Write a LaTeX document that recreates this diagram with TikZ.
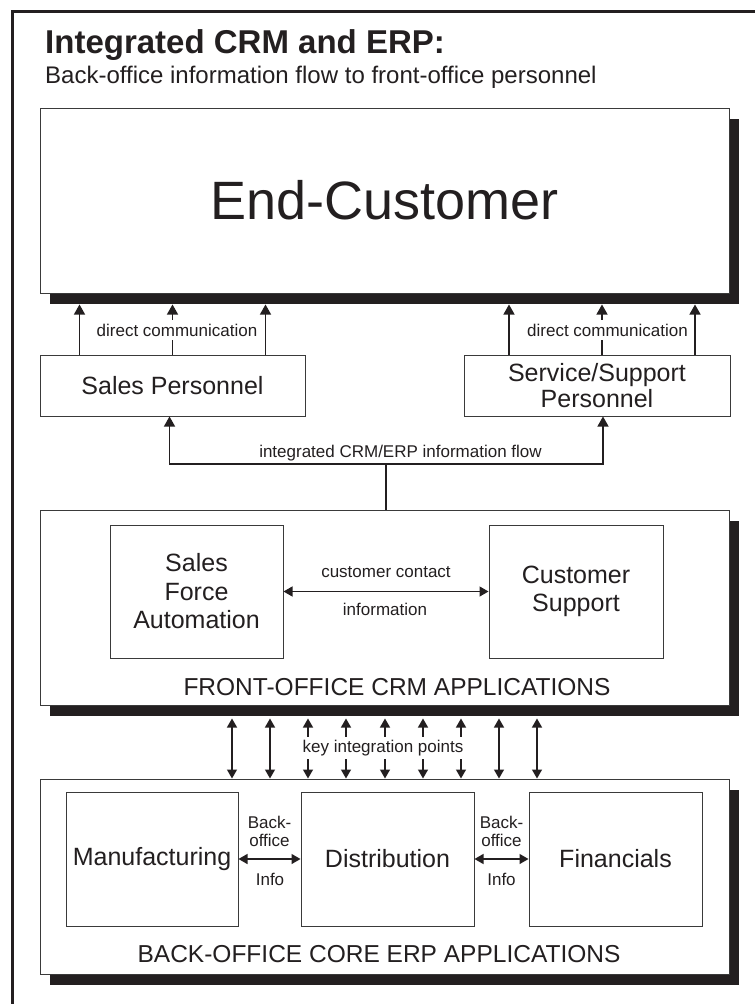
\documentclass[tikz,border=0pt]{standalone}
\usepackage{fontspec}
\setmainfont{Liberation Sans}
\usepackage{tikz}
\usetikzlibrary{arrows.meta,shadows}
\definecolor{ink}{HTML}{231F20}
\definecolor{rule}{HTML}{3A3A3A}
\tikzset{
  box/.style={rectangle, draw=rule, fill=white, line width=1pt, align=center,
              text=ink, inner sep=0pt, font=\fontsize{25}{28.5}\selectfont},
  tierbox/.style={box, drop shadow={shadow xshift=10pt, shadow yshift=-11pt, fill=ink, opacity=1}},
  tierlbl/.style={anchor=base, text=ink, inner sep=0pt, font=\fontsize{24.5}{28}\selectfont},
  lbl/.style={text=ink, align=center, inner sep=1pt, font=\fontsize{17}{18}\selectfont},
  gap/.style={lbl, fill=white, inner ysep=4pt},
  link/.style={draw=ink, line width=1.3pt},
  flow/.style={-{Triangle[length=10pt,width=11pt]}, draw=ink, line width=1.3pt},
  dflow/.style={{Triangle[length=9pt,width=10pt]}-{Triangle[length=9pt,width=10pt]}, draw=ink, line width=1.3pt},
}

\begin{document}
\begin{tikzpicture}[x=1pt, y=-1pt]
\path[fill=white, use as bounding box] (0,0) rectangle (755,1004);
\draw[ink, line width=3pt] (12,1004) |- (755,11);

% heading
\node[anchor=base west, inner sep=0pt, text=ink, font=\fontsize{33}{38}\selectfont\bfseries] (title) at (45,53) {Integrated CRM and ERP:};
\node[anchor=base west, inner sep=0pt, text=ink, font=\fontsize{24}{28}\selectfont] (subtitle) at (45,83) {Back-office information flow to front-office personnel};

% customer and personnel
\node[tierbox, minimum width=689pt, minimum height=185pt, font=\fontsize{54}{60}\selectfont] (ecust) at (384.5,200.5) {End-Customer};
\node[box, minimum width=265pt, minimum height=61pt] (sales) at (172.5,385.5) {Sales Personnel};
\node[box, minimum width=266pt, minimum height=61pt, font=\fontsize{25}{26}\selectfont] (serv) at (597,385.5) {Service/Support\\Personnel};

\coordinate (ecs) at ([yshift=-11pt]ecust.south);
\foreach \dx in {-93,0,93}
  \draw[flow] ([xshift=\dx pt]sales.north) coordinate (p) -- (p |- ecs);
\foreach \dx in {-88,5,98}
  \draw[flow] ([xshift=\dx pt]serv.north) coordinate (p) -- (p |- ecs);
\node[gap] (dcl) at (177,330) {direct communication};
\node[gap] (dcr) at (607.5,330) {direct communication};

% front office
\node[tierbox, minimum width=689pt, minimum height=195pt] (front) at (384.5,607.5) {};
\node[tierlbl] (frontlbl) at (397,695) {FRONT-OFFICE CRM APPLICATIONS};
\node[box, minimum width=173pt, minimum height=133pt] (sfa) at (196.5,591.5) {Sales\\Force\\Automation};
\node[box, minimum width=174pt, minimum height=133pt] (cs) at (576,591.5) {Customer\\Support};
\draw[dflow] (sfa) -- (cs);
\node[lbl, anchor=base] (cc) at (386,577) {customer contact};
\node[lbl, anchor=base] (ci) at (385,615) {information};

\coordinate (split) at (386,464);
\draw[link] (split) -- (split |- front.north);
\draw[flow] (split) -| ([xshift=-3pt]sales.south);
\draw[flow] (split) -| ([xshift=6pt]serv.south);
\node[lbl, anchor=base] (iflow) at (400.5,457) {integrated CRM/ERP information flow};

% back office
\node[tierbox, minimum width=689pt, minimum height=195pt] (back) at (384.5,876.5) {};
\node[tierlbl] (backlbl) at (379,962) {BACK-OFFICE CORE ERP APPLICATIONS};
\node[box, minimum width=172pt, minimum height=134pt] (manuf) at (152,859) {Manufacturing};
\node[box, minimum width=173pt, minimum height=134pt] (dist) at (387.5,859) {Distribution};
\node[box, minimum width=173pt, minimum height=134pt] (fin) at (615.5,859) {Financials};
\draw[dflow] (manuf) -- (dist);
\draw[dflow] (dist) -- (fin);
\node[lbl] (bo1) at (269.5,831) {Back-\\office};
\node[lbl, anchor=base] (inf1) at (270,885) {Info};
\node[lbl] (bo2) at (501.5,831) {Back-\\office};
\node[lbl, anchor=base] (inf2) at (501.5,885) {Info};

% integration points between the tiers
\coordinate (fos) at ([yshift=-13pt]front.south);
\foreach \x in {232,270,308,346,385,423,461,499,537}
  \draw[dflow] (\x,0 |- fos) -- (\x,0 |- back.north);
\node[gap, inner ysep=3pt] (kip) at (383,748) {key integration points};
\end{tikzpicture}
\end{document}
